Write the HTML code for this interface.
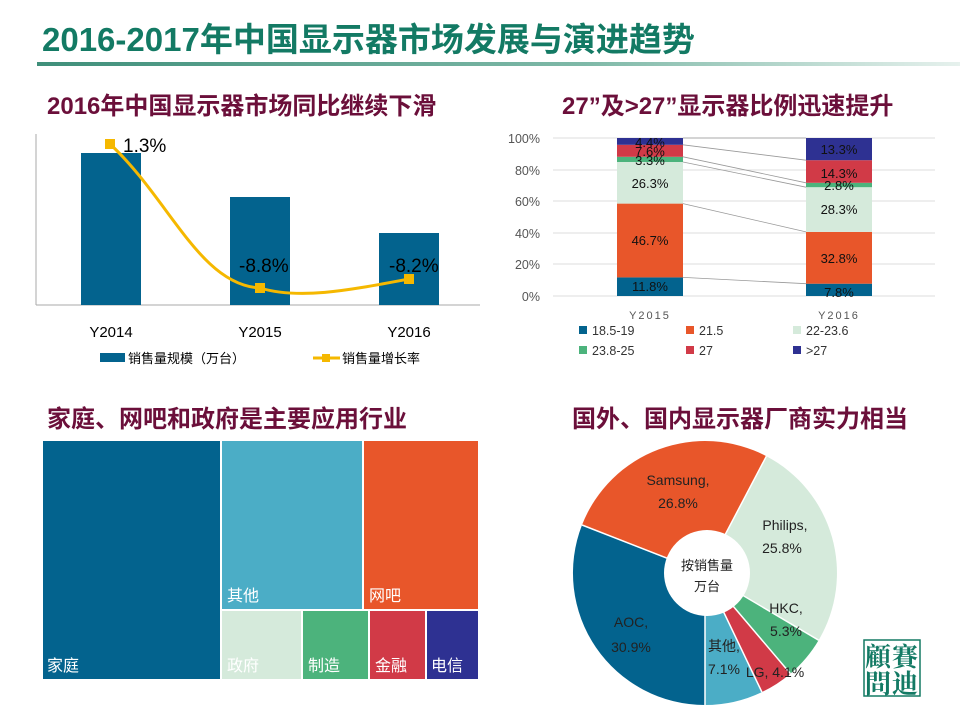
<!DOCTYPE html>
<html><head><meta charset="utf-8"><style>
body{margin:0;width:960px;height:720px;background:#fff;overflow:hidden;font-family:"Liberation Sans","Noto Sans CJK SC",sans-serif;position:relative}
.a{position:absolute;white-space:nowrap}
</style></head><body>
<div class="a" style="left:42px;top:13px;font-size:33px;font-weight:bold;color:#137a64">2016-2017年中国显示器市场发展与演进趋势</div>
<div class="a" style="left:37px;top:62px;width:923px;height:4px;background:linear-gradient(90deg,#3f8f7a,#7fb9a8 60%,#e6f1ed)"></div>
<div class="a" style="left:47px;top:86px;font-size:24px;font-weight:bold;color:#6b0f3a">2016年中国显示器市场同比继续下滑</div>
<div class="a" style="left:562px;top:86px;font-size:24px;font-weight:bold;color:#6b0f3a">27”及&gt;27”显示器比例迅速提升</div>
<div class="a" style="left:47px;top:399px;font-size:24px;font-weight:bold;color:#6b0f3a">家庭、网吧和政府是主要应用行业</div>
<div class="a" style="left:572px;top:399px;font-size:24px;font-weight:bold;color:#6b0f3a">国外、国内显示器厂商实力相当</div>

<svg class="a" style="left:0;top:0" width="960" height="720" font-family="Liberation Sans,Noto Sans CJK SC,sans-serif">
<line x1="36" y1="134" x2="36" y2="305" stroke="#aaa"/>
<line x1="36" y1="305" x2="480" y2="305" stroke="#aaa"/>
<rect x="81" y="153" width="60" height="152" fill="#03638e"/>
<rect x="230" y="197" width="60" height="108" fill="#03638e"/>
<rect x="379" y="233" width="60" height="72" fill="#03638e"/>
<path d="M110,144 C170,200 200,285 260,288 C300,300 350,290 409,279" fill="none" stroke="#f5b800" stroke-width="3"/>
<rect x="105" y="139" width="10" height="10" fill="#f5b800"/>
<rect x="255" y="283" width="10" height="10" fill="#f5b800"/>
<rect x="404" y="274" width="10" height="10" fill="#f5b800"/>
<text x="123" y="152" font-size="19">1.3%</text>
<text x="239" y="272" font-size="19">-8.8%</text>
<text x="389" y="272" font-size="19">-8.2%</text>
<text x="111" y="337" font-size="15" text-anchor="middle">Y2014</text>
<text x="260" y="337" font-size="15" text-anchor="middle">Y2015</text>
<text x="409" y="337" font-size="15" text-anchor="middle">Y2016</text>
<rect x="100" y="353" width="25" height="9" fill="#03638e"/>
<text x="128" y="363" font-size="13">销售量规模（万台）</text>
<line x1="313" y1="358" x2="340" y2="358" stroke="#f5b800" stroke-width="3"/>
<rect x="322" y="354" width="8" height="8" fill="#f5b800"/>
<text x="342" y="363" font-size="13">销售量增长率</text>

<g stroke="#ddd"><line x1="553" y1="138" x2="935" y2="138"/><line x1="553" y1="170" x2="935" y2="170"/><line x1="553" y1="201" x2="935" y2="201"/><line x1="553" y1="233" x2="935" y2="233"/><line x1="553" y1="264" x2="935" y2="264"/><line x1="553" y1="296" x2="935" y2="296"/></g>
<g font-size="12.5" fill="#555" text-anchor="end"><text x="540" y="143">100%</text><text x="540" y="175">80%</text><text x="540" y="206">60%</text><text x="540" y="238">40%</text><text x="540" y="269">20%</text><text x="540" y="301">0%</text></g>
<rect x="617" y="277.4" width="66" height="18.6" fill="#03638e"/>
<rect x="617" y="203.6" width="66" height="73.8" fill="#e8562a"/>
<rect x="617" y="162" width="66" height="41.6" fill="#d5eadb"/>
<rect x="617" y="156.8" width="66" height="5.2" fill="#4cb37c"/>
<rect x="617" y="144.8" width="66" height="12" fill="#d13a47"/>
<rect x="617" y="138" width="66" height="6.8" fill="#2e3192"/>
<rect x="806" y="283.7" width="66" height="12.3" fill="#03638e"/>
<rect x="806" y="231.9" width="66" height="51.8" fill="#e8562a"/>
<rect x="806" y="187.2" width="66" height="44.7" fill="#d5eadb"/>
<rect x="806" y="182.8" width="66" height="4.4" fill="#4cb37c"/>
<rect x="806" y="160.2" width="66" height="22.6" fill="#d13a47"/>
<rect x="806" y="138" width="66" height="22.2" fill="#2e3192"/>
<g stroke="#999" stroke-width="0.8"><line x1="683" y1="277.4" x2="806" y2="283.7"/><line x1="683" y1="203.6" x2="806" y2="231.9"/><line x1="683" y1="162" x2="806" y2="187.2"/><line x1="683" y1="156.8" x2="806" y2="182.8"/><line x1="683" y1="144.8" x2="806" y2="160.2"/><line x1="683" y1="138" x2="806" y2="138"/></g>
<g font-size="13" text-anchor="middle" fill="#111">
<text x="650" y="291">11.8%</text><text x="650" y="245">46.7%</text><text x="650" y="188">26.3%</text><text x="650" y="165">3.3%</text><text x="650" y="156">7.6%</text><text x="650" y="147">4.4%</text>
<text x="839" y="297">7.8%</text><text x="839" y="263">32.8%</text><text x="839" y="214">28.3%</text><text x="839" y="190">2.8%</text><text x="839" y="178">14.3%</text><text x="839" y="154">13.3%</text></g>
<g font-size="11" fill="#555" text-anchor="middle" letter-spacing="2"><text x="650" y="319">Y2015</text><text x="839" y="319">Y2016</text></g>
<g font-size="12.5" fill="#333">
<rect x="579" y="326" width="8" height="8" fill="#03638e"/><text x="592" y="335">18.5-19</text>
<rect x="686" y="326" width="8" height="8" fill="#e8562a"/><text x="699" y="335">21.5</text>
<rect x="793" y="326" width="8" height="8" fill="#d5eadb"/><text x="806" y="335">22-23.6</text>
<rect x="579" y="346" width="8" height="8" fill="#4cb37c"/><text x="592" y="355">23.8-25</text>
<rect x="686" y="346" width="8" height="8" fill="#d13a47"/><text x="699" y="355">27</text>
<rect x="793" y="346" width="8" height="8" fill="#2e3192"/><text x="806" y="355">&gt;27</text></g>

<g stroke="#fff" stroke-width="2">
<rect x="42" y="440" width="179" height="240" fill="#03638e"/>
<rect x="221" y="440" width="142" height="170" fill="#4badc6"/>
<rect x="363" y="440" width="116" height="170" fill="#e8562a"/>
<rect x="221" y="610" width="81" height="70" fill="#d5eadb"/>
<rect x="302" y="610" width="67" height="70" fill="#4cb37c"/>
<rect x="369" y="610" width="57" height="70" fill="#d13a47"/>
<rect x="426" y="610" width="53" height="70" fill="#2e3192"/></g>
<g font-size="16" fill="#fff"><text x="47" y="671">家庭</text><text x="227" y="601">其他</text><text x="369" y="601">网吧</text><text x="227" y="671">政府</text><text x="308" y="671">制造</text><text x="375" y="671">金融</text><text x="431" y="671">电信</text></g>

<path d="M705,573 L705,705 A132,132 0 0 1 582,525 Z" fill="#03638e"/>
<path d="M705,573 L582,525 A132,132 0 0 1 766.4,456.2 Z" fill="#e8562a"/>
<path d="M705,573 L766.4,456.2 A132,132 0 0 1 818.6,640.2 Z" fill="#d5eadb"/>
<path d="M705,573 L818.6,640.2 A132,132 0 0 1 790.4,673.6 Z" fill="#4cb37c"/>
<path d="M705,573 L790.4,673.6 A132,132 0 0 1 761.9,692.1 Z" fill="#d13a47"/>
<path d="M705,573 L761.9,692.1 A132,132 0 0 1 705,705 Z" fill="#4badc6"/>
<g stroke="#fff" stroke-width="1.5" fill="none"><path d="M705,573 L705,705 M705,573 L582,525 M705,573 L766.4,456.2 M705,573 L818.6,640.2 M705,573 L790.4,673.6 M705,573 L761.9,692.1"/></g>
<circle cx="707" cy="573" r="43" fill="#fff"/>
<g font-size="14" fill="#222" text-anchor="middle">
<text x="707" y="570" font-size="13">按销售量</text><text x="707" y="591" font-size="13">万台</text>
<text x="678" y="485">Samsung,</text><text x="678" y="508">26.8%</text>
<text x="785" y="530">Philips,</text><text x="782" y="553">25.8%</text>
<text x="786" y="613">HKC,</text><text x="786" y="636">5.3%</text>
<text x="631" y="627">AOC,</text><text x="631" y="652">30.9%</text>
<text x="724" y="651">其他,</text><text x="724" y="674">7.1%</text>
<text x="775" y="677">LG, 4.1%</text></g>
<rect x="864" y="640" width="56" height="56" fill="none" stroke="#137a64" stroke-width="1.5"/>
<g font-size="26" fill="#137a64" font-family="Noto Serif CJK SC,serif" font-weight="bold"><text x="865" y="666">顧</text><text x="892" y="666">賽</text><text x="865" y="693">問</text><text x="892" y="693">迪</text></g>
</svg>
</body></html>
